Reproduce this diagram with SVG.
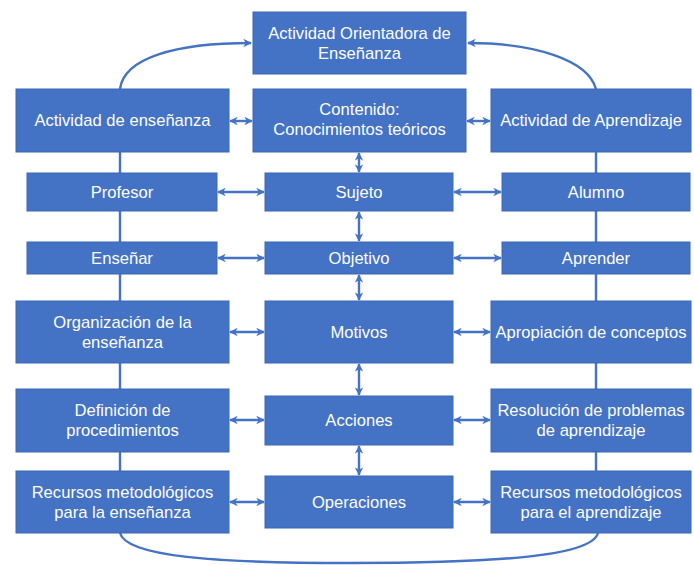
<svg xmlns="http://www.w3.org/2000/svg" width="694" height="565" viewBox="0 0 694 565">
<defs>
<marker id="ah" viewBox="0 0 10 10" refX="9" refY="5" markerWidth="3.6" markerHeight="3.6" orient="auto-start-reverse" markerUnits="strokeWidth">
<path d="M0,0 L10,5 L0,10 L3,5 Z" fill="#4472C4"/>
</marker>
</defs>
<style>
rect.n{fill:#4472C4;stroke:#3A66B5;stroke-width:1}
text{font-family:"Liberation Sans",Arial,Helvetica,sans-serif;font-size:16.6px;fill:#ffffff;text-anchor:middle}
.c path,.c line{stroke:#4472C4;stroke-width:2.4;fill:none}
.d{marker-start:url(#ah);marker-end:url(#ah)}
.e{marker-end:url(#ah)}
</style>
<rect width="694" height="565" fill="#ffffff"/>
<g class="c" id="connectors">
<line x1="120" y1="152" x2="120" y2="471"/>
<line x1="596" y1="152" x2="596" y2="471"/>
<path class="e" d="M120,89 C124,58 175,43 251,43"/>
<path class="e" d="M596,89 C588,60 535,43 468,43"/>
<path d="M120,533 C126,556 210,563 350,563 C500,563 592,556 598,533"/>
<line class="d" x1="230" y1="121" x2="252" y2="121"/>
<line class="d" x1="467" y1="121" x2="490" y2="121"/>
<line class="d" x1="218" y1="192" x2="264" y2="192"/>
<line class="d" x1="454" y1="192" x2="501" y2="192"/>
<line class="d" x1="218" y1="258" x2="264" y2="258"/>
<line class="d" x1="454" y1="258" x2="501" y2="258"/>
<line class="d" x1="230" y1="332" x2="264" y2="332"/>
<line class="d" x1="454" y1="332" x2="490" y2="332"/>
<line class="d" x1="230" y1="420" x2="264" y2="420"/>
<line class="d" x1="454" y1="420" x2="490" y2="420"/>
<line class="d" x1="230" y1="502" x2="264" y2="502"/>
<line class="d" x1="454" y1="502" x2="490" y2="502"/>
<line class="d" x1="359" y1="153" x2="359" y2="172"/>
<line class="d" x1="359" y1="212" x2="359" y2="241"/>
<line class="d" x1="359" y1="275" x2="359" y2="300"/>
<line class="d" x1="359" y1="364" x2="359" y2="395"/>
<line class="d" x1="359" y1="446" x2="359" y2="475"/>
</g>
<g id="n-orientadora"><rect class="n" x="253" y="12" width="213" height="62"/><text x="359.5" y="39">Actividad Orientadora de</text><text x="359.5" y="59">Enseñanza</text></g>
<g id="n-act-ensenanza"><rect class="n" x="16" y="89" width="213" height="63"/><text x="122.5" y="126">Actividad de enseñanza</text></g>
<g id="n-contenido"><rect class="n" x="253" y="89" width="213" height="63"/><text x="359.5" y="115">Contenido:</text><text x="359.5" y="135">Conocimientos teóricos</text></g>
<g id="n-act-aprendizaje"><rect class="n" x="491" y="89" width="200" height="63"/><text x="591" y="126">Actividad de Aprendizaje</text></g>
<g id="n-profesor"><rect class="n" x="27" y="173" width="190" height="38"/><text x="122" y="197.5">Profesor</text></g>
<g id="n-sujeto"><rect class="n" x="265" y="173" width="188" height="38"/><text x="359" y="197.5">Sujeto</text></g>
<g id="n-alumno"><rect class="n" x="502" y="173" width="188" height="38"/><text x="596" y="197.5">Alumno</text></g>
<g id="n-ensenar"><rect class="n" x="27" y="242" width="190" height="32"/><text x="122" y="263.5">Enseñar</text></g>
<g id="n-objetivo"><rect class="n" x="265" y="242" width="188" height="32"/><text x="359" y="263.5">Objetivo</text></g>
<g id="n-aprender"><rect class="n" x="502" y="242" width="188" height="32"/><text x="596" y="263.5">Aprender</text></g>
<g id="n-organizacion"><rect class="n" x="16" y="301" width="213" height="62"/><text x="122.5" y="328">Organización de la</text><text x="122.5" y="348">enseñanza</text></g>
<g id="n-motivos"><rect class="n" x="265" y="301" width="188" height="62"/><text x="359" y="338">Motivos</text></g>
<g id="n-apropiacion"><rect class="n" x="491" y="301" width="200" height="62"/><text x="591" y="338">Apropiación de conceptos</text></g>
<g id="n-definicion"><rect class="n" x="16" y="389" width="213" height="63"/><text x="122.5" y="416">Definición de</text><text x="122.5" y="436">procedimientos</text></g>
<g id="n-acciones"><rect class="n" x="265" y="396" width="188" height="49"/><text x="359" y="426">Acciones</text></g>
<g id="n-resolucion"><rect class="n" x="491" y="389" width="200" height="63"/><text x="591" y="416">Resolución de problemas</text><text x="591" y="436">de aprendizaje</text></g>
<g id="n-recursos-ens"><rect class="n" x="16" y="471" width="213" height="62"/><text x="122.5" y="498">Recursos metodológicos</text><text x="122.5" y="518">para la enseñanza</text></g>
<g id="n-operaciones"><rect class="n" x="265" y="476" width="188" height="52"/><text x="359" y="508">Operaciones</text></g>
<g id="n-recursos-apr"><rect class="n" x="491" y="471" width="200" height="62"/><text x="591" y="498">Recursos metodológicos</text><text x="591" y="518">para el aprendizaje</text></g>
</svg>
